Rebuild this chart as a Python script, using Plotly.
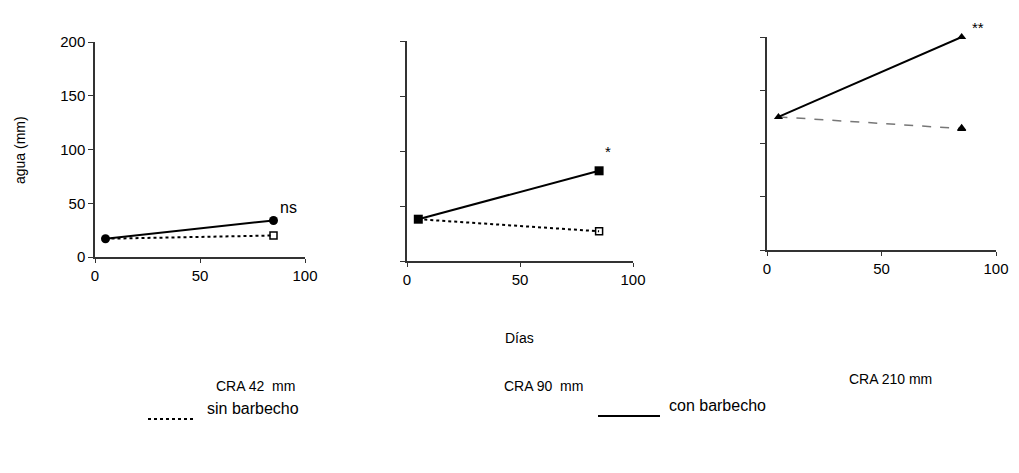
import plotly.graph_objects as go

# datos
dias = [5, 85]
cra_labels = ["CRA 42  mm", "CRA 90  mm", "CRA 210 mm"]
con_barbecho = [[17, 34], [38, 82], [125, 200]]
sin_barbecho = [[17, 20], [38, 27], [125, 114]]
signif = ["ns", "*", "**"]
symbols_con = ["circle", "square", "triangle-up"]
symbols_sin = ["square-open", "square-open", "triangle-up"]
leyenda = ["sin barbecho", "con barbecho"]

# page body has an 8px margin, so the figure is drawn a bit smaller
OFF = 8
W, H = 1019 - 2 * OFF, 473 - 2 * OFF


def px(x):
    return (x - OFF) / W


def py(y):
    return 1 - (y - OFF) / H


# pixel boxes of each panel in the page: (x0, x1, y_top, y_bottom)
boxes = [(95, 305, 42, 257), (407, 633, 41, 261), (767, 996, 37, 250)]

font = dict(family="Liberation Sans, Arial", size=15, color="black")
small = dict(family="Liberation Sans, Arial", size=14, color="black")

fig = go.Figure()
for i in range(3):
    sfx = "" if i == 0 else str(i + 1)
    dash = "dot" if i < 2 else "dash"
    col_sin = "black" if i < 2 else "#777777"
    fig.add_trace(go.Scatter(
        x=dias, y=sin_barbecho[i], xaxis="x" + sfx, yaxis="y" + sfx,
        mode="lines+markers", showlegend=False, cliponaxis=False,
        line=dict(color=col_sin, width=2 if i < 2 else 1.5, dash=dash),
        marker=dict(symbol=symbols_sin[i], size=7, color="black", opacity=[0, 1],
                    line=dict(color="black", width=1.5))
    ))
    fig.add_trace(go.Scatter(
        x=dias, y=con_barbecho[i], xaxis="x" + sfx, yaxis="y" + sfx,
        mode="lines+markers", showlegend=False, cliponaxis=False,
        line=dict(color="black", width=2),
        marker=dict(symbol=symbols_con[i], size=9 if i < 2 else 8, color="black")
    ))

layout = dict(
    width=W, height=H,
    margin=dict(l=0, r=0, t=0, b=0),
    paper_bgcolor="white", plot_bgcolor="white",
    font=font,
    showlegend=False,
)

for i, (x0, x1, yt, yb) in enumerate(boxes):
    sfx = "" if i == 0 else str(i + 1)
    layout["xaxis" + sfx] = dict(
        domain=[px(x0), px(x1)], range=[0, 100], anchor="y" + sfx,
        tickvals=[0, 50, 100], ticks="outside", ticklen=4,
        showline=True, linecolor="#333", linewidth=1.5, tickcolor="#333",
        showgrid=False, zeroline=False, tickfont=font, automargin=False,
    )
    layout["yaxis" + sfx] = dict(
        domain=[py(yb), py(yt)], range=[0, 200], anchor="x" + sfx,
        tickvals=[0, 50, 100, 150, 200], ticks="outside", ticklen=5,
        showline=True, linecolor="#333", linewidth=1.5, tickcolor="#333",
        showgrid=False, zeroline=False, tickfont=font, automargin=False,
        showticklabels=(i == 0),
    )

fig.update_layout(**layout)

# axis titles
fig.add_annotation(x=px(20), y=py(150), xref="paper", yref="paper", text="agua (mm)",
                   textangle=-90, showarrow=False, xanchor="center", yanchor="middle", font=small)
fig.add_annotation(x=px(520), y=py(338), xref="paper", yref="paper", text="Días",
                   showarrow=False, xanchor="center", yanchor="middle", font=small)

# significance marks
sig_pos = [(92, 200 * 50 / 215), (89, 100), (92, 200)]
sig_shift = [0, 0, 10]
for i, (sx, sy) in enumerate(sig_pos):
    sfx = "" if i == 0 else str(i + 1)
    fig.add_annotation(x=sx, y=sy, xref="x" + sfx, yref="y" + sfx, text=signif[i],
                       yshift=sig_shift[i], showarrow=False, xanchor="center",
                       font=dict(family="Liberation Sans, Arial", size=16 if i == 0 else 15))

# panel captions
cap_pos = [(255, 386), (543, 386), (890, 379)]
for lab, (cx, cy) in zip(cra_labels, cap_pos):
    fig.add_annotation(x=px(cx), y=py(cy), xref="paper", yref="paper", text=lab,
                       showarrow=False, xanchor="center", yanchor="middle", font=small)

# legend drawn by hand (keys far apart at the bottom)
leg_keys = [(148, 195, 419, "3px,3px"), (598, 660, 416, "solid")]
leg_text = [(205, 408), (667, 405)]
for (k0, k1, ky, kd), (tx, ty), name in zip(leg_keys, leg_text, leyenda):
    fig.add_shape(type="line", xref="paper", yref="paper",
                  x0=px(k0), x1=px(k1), y0=py(ky), y1=py(ky),
                  line=dict(color="black", width=2, dash=kd))
    fig.add_annotation(x=px(tx), y=py(ty), xref="paper", yref="paper", text=name,
                       showarrow=False, xanchor="left", yanchor="middle",
                       font=dict(family="Liberation Sans, Arial", size=16, color="black"))

fig.write_html("out.html")
